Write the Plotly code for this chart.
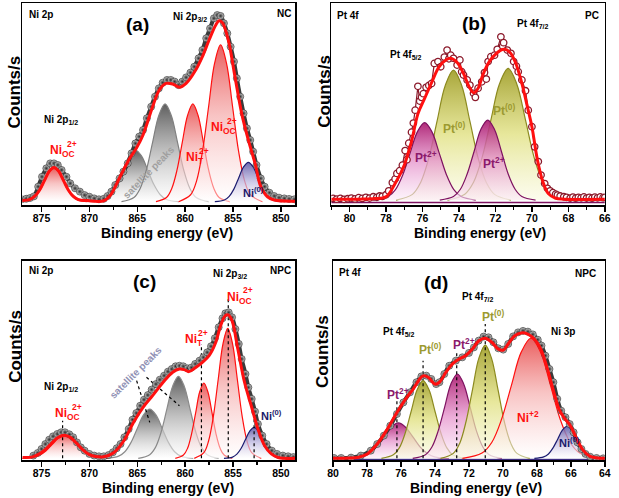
import plotly.graph_objects as go

# ======================= DATA =======================
# ---- (a) Ni 2p, NC ----
a_data = [(877.05, 1.3), (876.6, 1.6), (876.2, 2.0), (875.8, 2.9), (875.35, 8.2), (874.95, 13.6), (874.5, 18.2),
          (874.1, 20.9), (873.7, 20.9), (873.3, 20.0), (872.9, 17.3), (872.4, 13.6), (872.0, 10.0), (871.5, 7.3),
          (871.0, 5.5), (870.5, 3.6), (870.0, 2.7), (869.5, 1.8), (869.0, 1.3), (868.5, 1.6), (868.1, 3.1),
          (867.7, 5.5), (867.3, 9.1), (866.85, 12.7), (866.45, 16.4), (866.0, 20.9), (865.6, 26.4), (865.2, 31.8),
          (864.8, 35.5), (864.4, 39.1), (864.0, 45.5), (863.55, 51.8), (863.15, 57.3), (862.75, 61.8), (862.35, 64.9),
          (861.9, 66.4), (861.5, 66.4), (861.1, 65.5), (860.7, 63.6), (860.3, 65.5), (859.9, 67.8), (859.45, 70.4),
          (859.05, 73.6), (858.6, 78.2), (858.2, 82.7), (857.8, 89.1), (857.4, 94.5), (857.0, 100.0), (856.65, 101.8),
          (856.3, 101.3), (855.95, 97.3), (855.6, 91.8), (855.25, 84.5), (854.9, 76.4), (854.6, 67.3), (854.25, 57.3),
          (853.9, 48.2), (853.55, 40.0), (853.2, 33.6), (852.9, 27.3), (852.55, 20.0), (852.1, 12.7), (851.7, 8.2),
          (851.2, 4.9), (850.7, 3.1), (850.2, 2.2), (849.65, 1.8), (849.15, 1.5), (848.6, 1.3)]
a_fit = [(877.2, 0.6), (876.2, 1.3), (875.7, 3.0), (875.2, 6.4), (874.7, 11.5), (874.2, 16.6), (873.7, 18.7),
         (873.2, 16.6), (872.7, 11.5), (872.2, 6.4), (871.7, 3.0), (871.2, 1.3), (870.2, 0.6), (868.5, 0.5),
         (867.8, 3.6), (866.8, 13.6), (865.8, 23.6), (865.1, 29.1), (864.4, 36.4), (863.4, 51.8), (862.7, 60.9),
         (862.0, 64.5), (861.3, 64.2), (860.6, 62.4), (859.9, 64.5), (858.9, 71.8), (858.2, 79.1), (857.5, 88.2),
         (856.8, 96.4), (856.45, 98.7), (856.1, 97.5), (855.5, 88.2), (854.8, 68.2), (854.1, 48.2), (853.4, 33.6),
         (852.7, 20.9), (852.1, 8.2), (851.4, 2.7), (850.7, 0.9), (848.3, 0.3)]
a_niocsat_x = [877.2, 876.2, 875.7, 875.2, 874.7, 874.2, 873.7, 873.2, 872.7, 872.2, 871.7, 871.2, 870.2]
a_niocsat_y = [0, 0.8, 2.5, 5.9, 11.0, 16.1, 18.2, 16.1, 11.0, 5.9, 2.5, 0.8, 0]
a_sat1_x = [869.75, 868.45, 867.8, 867.15, 866.5, 865.85, 865.2, 864.55, 863.9, 863.25, 862.6, 861.95, 860.65]
a_sat1_y = [0, 1.2, 3.8, 9.2, 17.1, 24.9, 28.2, 24.9, 17.1, 9.2, 3.8, 1.2, 0]
a_sat2_x = [866.65, 865.35, 864.7, 864.05, 863.4, 862.75, 862.1, 861.45, 860.8, 860.15, 859.5, 858.85, 857.55]
a_sat2_y = [0, 2.3, 7.2, 17.3, 32.4, 47.0, 53.3, 47.0, 32.4, 17.3, 7.2, 2.3, 0]
a_nit_x = [863.05, 861.95, 861.4, 860.85, 860.3, 859.75, 859.2, 858.65, 858.1, 857.55, 857.0, 856.45, 855.35]
a_nit_y = [0, 2.3, 7.2, 17.3, 32.4, 47.0, 53.3, 47.0, 32.4, 17.3, 7.2, 2.3, 0]
a_nioc_x = [860.68, 859.43, 858.8, 858.18, 857.55, 856.93, 856.3, 855.68, 855.05, 854.43, 853.8, 853.18, 851.93]
a_nioc_y = [0, 3.8, 11.5, 27.8, 51.9, 75.4, 85.5, 75.4, 51.9, 27.8, 11.5, 3.8, 0]
a_ni0_x = [856.9, 855.9, 855.4, 854.9, 854.4, 853.9, 853.4, 852.9, 852.4, 851.9, 851.4, 850.9, 849.9]
a_ni0_y = [0, 0.9, 2.9, 7.0, 13.1, 19.0, 21.5, 19.0, 13.1, 7.0, 2.9, 0.9, 0]
a_ticks = [875, 870, 865, 860, 855, 850]

# ---- (b) Pt 4f, PC ----
b_data = [(80.9, 0.9), (80.7, 0.5), (80.5, 0.9), (80.3, 0.4), (80.1, 0.7), (79.9, 1.1), (79.7, 0.6), (79.5, 1.3),
          (79.3, 0.9), (79.1, 1.5), (78.9, 1.1), (78.7, 1.8), (78.5, 1.5), (78.35, 2.2), (78.2, 2.0), (78.0, 2.9),
          (77.85, 5.0), (77.65, 9.5), (77.5, 11.5), (77.4, 14.5), (77.25, 16.0), (77.1, 19.0), (76.95, 27.0),
          (76.85, 22.0), (76.75, 31.0), (76.6, 37.0), (76.5, 42.0), (76.4, 49.0), (76.25, 62.0), (76.15, 54.0),
          (76.05, 56.0), (75.95, 58.0), (75.8, 61.5), (75.65, 62.5), (75.5, 63.6), (75.35, 74.5), (75.15, 75.5),
          (75.0, 72.7), (74.8, 78.0), (74.65, 81.8), (74.55, 77.0), (74.45, 79.0), (74.3, 77.3), (74.1, 73.6),
          (73.95, 76.4), (73.85, 70.0), (73.75, 68.2), (73.55, 65.5), (73.4, 62.7), (73.2, 58.2), (73.1, 56.0),
          (72.95, 61.0), (72.75, 64.5), (72.6, 69.5), (72.5, 66.0), (72.4, 75.5), (72.25, 78.2), (72.05, 79.0),
          (71.9, 82.2), (71.7, 89.0), (71.6, 84.0), (71.55, 85.8), (71.35, 81.8), (71.15, 80.0), (71.0, 75.5),
          (70.85, 73.0), (70.75, 70.0), (70.55, 65.5), (70.35, 59.6), (70.2, 49.0), (70.0, 40.0), (69.85, 29.0),
          (69.65, 21.0), (69.5, 13.6), (69.3, 9.0), (69.15, 6.4), (69.0, 5.0), (68.85, 4.0), (68.7, 3.2),
          (68.6, 2.7), (68.45, 2.2), (68.25, 1.8), (68.1, 1.5), (67.9, 1.1), (67.75, 1.6), (67.6, 1.0),
          (67.45, 1.5), (67.3, 1.2), (67.15, 1.7), (67.0, 1.1), (66.85, 1.5), (66.7, 1.0), (66.55, 1.6),
          (66.4, 1.2), (66.25, 1.7), (66.1, 1.3), (66.0, 1.5)]
b_fit = [(81.0, 0.4), (79.5, 0.5), (78.6, 0.8), (78.0, 1.8), (77.5, 9.0), (77.0, 19.0), (76.6, 32.0), (76.25, 47.0),
         (75.9, 55.0), (75.5, 64.0), (75.1, 72.5), (74.7, 76.5), (74.45, 77.3), (74.1, 75.0), (73.75, 69.0),
         (73.45, 62.0), (73.2, 58.5), (72.95, 61.0), (72.7, 68.0), (72.4, 74.5), (72.1, 78.5), (71.75, 81.5),
         (71.5, 82.2), (71.2, 80.5), (70.9, 75.0), (70.55, 63.6), (70.25, 51.0), (70.0, 40.0), (69.7, 22.0),
         (69.4, 10.0), (69.1, 3.5), (68.7, 1.0), (68.2, 0.5), (66.0, 0.4)]
b_base = [(81.0, -1.4), (66.0, -1.4)]
b_pt2a_x = [78.68, 77.88, 77.48, 77.08, 76.68, 76.28, 75.88, 75.48, 75.08, 74.68, 74.28, 73.88, 73.08]
b_pt2a_y = [0, 1.9, 5.7, 13.7, 25.6, 37.2, 42.2, 37.2, 25.6, 13.7, 5.7, 1.9, 0]
b_pt0a_x = [77.45, 76.55, 76.1, 75.65, 75.2, 74.75, 74.3, 73.85, 73.4, 72.95, 72.5, 72.05, 71.15]
b_pt0a_y = [0, 3.1, 9.6, 23.0, 43.0, 62.5, 70.9, 62.5, 43.0, 23.0, 9.6, 3.1, 0]
b_pt2b_x = [75.05, 74.3, 73.92, 73.55, 73.17, 72.8, 72.42, 72.05, 71.67, 71.3, 70.92, 70.55, 69.8]
b_pt2b_y = [0, 1.9, 5.9, 14.2, 26.5, 38.5, 43.6, 38.5, 26.5, 14.2, 5.9, 1.9, 0]
b_pt0b_x = [74.63, 73.68, 73.2, 72.73, 72.25, 71.78, 71.3, 70.83, 70.35, 69.88, 69.4, 68.93, 67.98]
b_pt0b_y = [0, 3.2, 9.7, 23.3, 43.6, 63.3, 71.8, 63.3, 43.6, 23.3, 9.7, 3.2, 0]
b_ticks = [80, 78, 76, 74, 72, 70, 68, 66]

# ---- (c) Ni 2p, NPC ----
c_data = [(875.85, 1.5), (875.4, 2.9), (875.0, 5.1), (874.6, 7.8), (874.2, 10.2), (873.8, 12.0), (873.35, 13.3),
          (872.95, 14.2), (872.55, 14.2), (872.1, 13.1), (871.7, 11.5), (871.3, 8.7), (870.9, 6.0), (870.5, 4.2),
          (870.0, 2.4), (869.5, 1.5), (869.0, 1.1), (868.5, 1.1), (868.0, 1.8), (867.55, 3.3), (867.15, 5.5),
          (866.75, 7.8), (866.35, 11.5), (865.9, 16.0), (865.5, 21.1), (865.1, 24.7), (864.7, 28.7), (864.3, 32.0),
          (863.9, 34.5), (863.5, 37.5), (863.05, 40.5), (862.65, 42.9), (862.2, 45.1), (861.8, 47.3), (861.4, 48.7),
          (861.0, 50.2), (860.6, 50.5), (860.2, 50.2), (859.75, 49.1), (859.35, 49.5), (858.95, 51.5), (858.5, 53.3),
          (858.1, 55.1), (857.7, 57.8), (857.3, 61.1), (856.9, 65.5), (856.5, 71.5), (856.1, 76.4), (855.8, 79.1),
          (855.45, 79.6), (855.1, 76.9), (854.75, 70.5), (854.4, 62.4), (854.1, 54.2), (853.7, 46.0), (853.4, 38.7),
          (853.05, 32.4), (852.7, 25.5), (852.4, 18.7), (851.95, 12.4), (851.5, 7.8), (850.95, 4.2), (850.4, 2.4),
          (849.8, 1.5), (849.25, 1.1), (848.7, 0.7)]
c_fit = [(877.0, 0.5), (875.9, 0.8), (875.2, 2.5), (874.55, 5.0), (873.9, 8.5), (873.25, 11.5), (872.6, 12.6),
         (871.95, 11.3), (871.3, 8.0), (870.65, 4.5), (870.0, 2.0), (869.35, 1.0), (868.5, 0.9), (867.5, 2.9),
         (866.4, 9.6), (865.4, 19.6), (864.4, 27.8), (863.4, 34.2), (862.3, 41.5), (861.3, 47.0), (860.6, 48.7),
         (860.1, 48.4), (859.6, 47.3), (858.9, 49.6), (858.2, 52.4), (857.5, 56.0), (856.8, 63.3), (856.3, 72.4),
         (855.8, 77.8), (855.5, 78.2), (855.1, 75.0), (854.5, 59.6), (853.8, 41.5), (853.1, 28.7), (852.4, 16.0),
         (851.7, 6.9), (851.0, 2.4), (850.3, 0.5), (848.5, 0.0)]
c_niocsat_x = [877.15, 875.85, 875.2, 874.55, 873.9, 873.25, 872.6, 871.95, 871.3, 870.65, 870.0, 869.35, 868.05]
c_niocsat_y = [0, 0.5, 1.7, 4.0, 7.5, 10.9, 12.4, 10.9, 7.5, 4.0, 1.7, 0.5, 0]
c_sat1_x = [868.25, 866.95, 866.3, 865.65, 865.0, 864.35, 863.7, 863.05, 862.4, 861.75, 861.1, 860.45, 859.15]
c_sat1_y = [0, 1.2, 3.6, 8.7, 16.3, 23.7, 26.9, 23.7, 16.3, 8.7, 3.6, 1.2, 0]
c_sat2_x = [864.9, 863.7, 863.1, 862.5, 861.9, 861.3, 860.7, 860.1, 859.5, 858.9, 858.3, 857.7, 856.5]
c_sat2_y = [0, 2.0, 6.0, 14.5, 27.1, 39.4, 44.7, 39.4, 27.1, 14.5, 6.0, 2.0, 0]
c_nit_x = [861.03, 860.18, 859.75, 859.33, 858.9, 858.48, 858.05, 857.63, 857.2, 856.78, 856.35, 855.93, 855.08]
c_nit_y = [0, 1.8, 5.5, 13.4, 24.9, 36.3, 41.1, 36.3, 24.9, 13.4, 5.5, 1.8, 0]
c_nioc_x = [859.05, 858.05, 857.55, 857.05, 856.55, 856.05, 855.55, 855.05, 854.55, 854.05, 853.55, 853.05, 852.05]
c_nioc_y = [0, 3.1, 9.6, 23.0, 43.0, 62.5, 70.9, 62.5, 43.0, 23.0, 9.6, 3.1, 0]
c_ni0_x = [855.95, 855.05, 854.6, 854.15, 853.7, 853.25, 852.8, 852.35, 851.9, 851.45, 851.0, 850.55, 849.65]
c_ni0_y = [0, 0.7, 2.3, 5.5, 10.3, 14.9, 16.9, 14.9, 10.3, 5.5, 2.3, 0.7, 0]
c_drops = [(872.8, 20.5), (858.3, 62.4), (855.5, 86.9), (852.8, 28.7)]
c_pointers = [((865.07, 42.4), (863.7, 19.6)), ((864.04, 44.2), (860.6, 28.7))]
c_ticks = [875, 870, 865, 860, 855, 850]

# ---- (d) Pt 4f, NPC ----
d_data = [(79.94, 0.2), (79.52, 0.2), (78.94, 0.4), (78.36, 1.5), (77.78, 4.2), (77.4, 7.8), (77.01, 12.4),
          (76.63, 17.8), (76.24, 24.2), (75.86, 30.5), (75.47, 36.0), (75.09, 41.5), (74.8, 44.7), (74.51, 45.1),
          (74.22, 43.3), (73.93, 40.5), (73.74, 41.5), (73.45, 46.0), (73.16, 50.5), (72.77, 53.3), (72.39, 55.1),
          (72.0, 57.5), (71.71, 60.5), (71.43, 64.2), (71.14, 66.4), (70.85, 66.0), (70.56, 63.3), (70.27, 60.0),
          (69.98, 59.3), (69.69, 62.4), (69.4, 66.5), (69.11, 68.7), (68.82, 69.5), (68.53, 69.1), (68.24, 67.6),
          (67.95, 64.7), (67.73, 61.5), (67.5, 56.0), (67.26, 48.7), (67.03, 41.5), (66.8, 32.4), (66.57, 26.0),
          (66.32, 22.4), (66.07, 18.7), (65.84, 14.2), (65.61, 8.7), (65.38, 5.1), (65.14, 2.4), (64.87, 0.9),
          (64.49, 0.2), (64.1, 0.0)]
d_fit = [(80.0, 0.0), (79.0, 0.2), (78.55, 0.5), (77.98, 2.4), (77.4, 7.8), (76.8, 16.0), (76.24, 25.0),
         (75.66, 33.3), (75.28, 37.8), (74.9, 43.3), (74.7, 45.0), (74.4, 44.2), (74.0, 40.5), (73.74, 41.5),
         (73.35, 47.0), (72.97, 51.5), (72.58, 54.2), (72.2, 56.0), (71.8, 59.6), (71.43, 64.0), (71.04, 65.5),
         (70.66, 63.3), (70.27, 59.6), (69.98, 59.0), (69.69, 62.4), (69.3, 66.9), (68.92, 68.4), (68.54, 67.8),
         (68.15, 65.1), (67.77, 59.6), (67.38, 48.7), (67.0, 36.0), (66.7, 26.9), (66.42, 22.4), (66.03, 17.8),
         (65.65, 10.5), (65.26, 4.2), (64.87, 1.1), (64.0, 0.0)]
d_base = [(80.0, -0.6), (64.0, -0.6)]
d_pt2a_x = [79.13, 78.28, 77.85, 77.43, 77.0, 76.58, 76.15, 75.73, 75.3, 74.88, 74.45, 74.03, 73.18]
d_pt2a_y = [0, 0.8, 2.6, 6.3, 11.7, 17.0, 19.3, 17.0, 11.7, 6.3, 2.6, 0.8, 0]
d_pt0a_x = [77.15, 76.45, 76.1, 75.75, 75.4, 75.05, 74.7, 74.35, 74.0, 73.65, 73.3, 72.95, 72.25]
d_pt0a_y = [0, 1.9, 5.7, 13.8, 25.7, 37.4, 42.4, 37.4, 25.7, 13.8, 5.7, 1.9, 0]
d_pt2b_x = [75.31, 74.56, 74.18, 73.81, 73.43, 73.06, 72.68, 72.31, 71.93, 71.56, 71.18, 70.81, 70.06]
d_pt2b_y = [0, 2.0, 6.2, 15.0, 27.9, 40.6, 46.0, 40.6, 27.9, 15.0, 6.2, 2.0, 0]
d_pt0b_x = [73.67, 72.92, 72.54, 72.17, 71.79, 71.42, 71.04, 70.67, 70.29, 69.92, 69.54, 69.17, 68.42]
d_pt0b_y = [0, 2.7, 8.3, 20.1, 37.5, 54.5, 61.8, 54.5, 37.5, 20.1, 8.3, 2.7, 0]
d_ni2_x = [72.38, 71.23, 70.65, 70.08, 69.5, 68.93, 68.35, 67.78, 67.2, 66.63, 66.05, 65.48, 64.33]
d_ni2_y = [0, 2.9, 8.8, 21.3, 39.8, 57.8, 65.5, 57.8, 39.8, 21.3, 8.8, 2.9, 0]
d_ni0_x = [68.15, 67.6, 67.32, 67.05, 66.77, 66.5, 66.22, 65.95, 65.67, 65.4, 65.12, 64.85, 64.3]
d_ni0_y = [0, 0.8, 2.4, 5.7, 10.6, 15.4, 17.5, 15.4, 10.6, 5.7, 2.4, 0.8, 0]
d_drops = [(76.24, 31.5), (74.7, 53.3), (72.72, 57.8), (71.04, 73.3)]
d_ticks = [80, 78, 76, 74, 72, 70, 68, 66, 64]

# ======================= STYLE =======================
W, H = 619, 498
FONT = "Arial"
RED = "#ff1010"
RED_FILL = [[0, "rgba(255,255,255,0.5)"], [0.55, "rgba(245,170,170,0.7)"], [1, "rgba(230,65,65,0.85)"]]
GRAY_FILL = [[0, "rgba(255,255,255,0.5)"], [0.5, "rgba(175,175,175,0.75)"], [1, "rgba(80,80,80,0.92)"]]
NAVY_FILL = [[0, "rgba(255,255,255,0.5)"], [0.5, "rgba(190,185,225,0.75)"], [1, "rgba(95,88,165,0.9)"]]
MAG_FILL = [[0, "rgba(252,235,248,0.6)"], [0.5, "rgba(230,150,205,0.8)"], [1, "rgba(170,25,110,0.92)"]]
OLIVE_FILL = [[0, "rgba(250,250,225,0.6)"], [0.5, "rgba(225,225,130,0.8)"], [1, "rgba(160,158,40,0.92)"]]

fig = go.Figure()


def xs(p):
    return [v[0] for v in p]


def ys(p):
    return [v[1] for v in p]


def comp(x, y, ax, lc, scale):
    fig.add_trace(go.Scatter(x=x, y=y, xaxis="x" + ax, yaxis="y" + ax, mode="lines",
                             line=dict(color=lc, width=1.2, shape="spline"), fill="tozeroy",
                             fillgradient=dict(type="vertical", colorscale=scale),
                             hoverinfo="skip", showlegend=False))


def dots(p, ax):
    fig.add_trace(go.Scatter(x=xs(p), y=ys(p), xaxis="x" + ax, yaxis="y" + ax, mode="lines+markers",
                             line=dict(color="#3a3a3a", width=4, shape="spline"),
                             marker=dict(size=7, color="#d5d5d5",
                                         gradient=dict(type="radial", color="#2a2a2a"),
                                         line=dict(width=0.6, color="#1c1c1c")),
                             showlegend=False))


def fit(p, ax):
    fig.add_trace(go.Scatter(x=xs(p), y=ys(p), xaxis="x" + ax, yaxis="y" + ax, mode="lines",
                             line=dict(color=RED, width=3, shape="spline"), showlegend=False))


def dotted(p0, p1, ax):
    fig.add_trace(go.Scatter(x=[p0[0], p1[0]], y=[p0[1], p1[1]], xaxis="x" + ax, yaxis="y" + ax,
                             mode="lines", line=dict(color="black", width=1.2, dash="dot"),
                             hoverinfo="skip", showlegend=False))


# ---- (a) ----
comp(a_sat1_x, a_sat1_y, "", "#808080", GRAY_FILL)
comp(a_sat2_x, a_sat2_y, "", "#808080", GRAY_FILL)
comp(a_nit_x, a_nit_y, "", RED, RED_FILL)
comp(a_nioc_x, a_nioc_y, "", RED, RED_FILL)
comp(a_ni0_x, a_ni0_y, "", "#1c1c70", NAVY_FILL)
comp(a_niocsat_x, a_niocsat_y, "", RED, RED_FILL)
dots(a_data, "")
fit(a_fit, "")

# ---- (b) ----
fig.add_trace(go.Scatter(x=xs(b_base), y=ys(b_base), xaxis="x2", yaxis="y2", mode="lines",
                         line=dict(color="#7d1260", width=1.5), showlegend=False))
comp(b_pt0a_x, b_pt0a_y, "2", "#8c8a20", OLIVE_FILL)
comp(b_pt0b_x, b_pt0b_y, "2", "#8c8a20", OLIVE_FILL)
comp(b_pt2a_x, b_pt2a_y, "2", "#7d1260", MAG_FILL)
comp(b_pt2b_x, b_pt2b_y, "2", "#7d1260", MAG_FILL)
fig.add_trace(go.Scatter(x=xs(b_data), y=ys(b_data), xaxis="x2", yaxis="y2", mode="lines+markers",
                         line=dict(color="#8b1a2b", width=1.2),
                         marker=dict(symbol="circle", size=6.5, color="white",
                                     line=dict(color="#8b1a2b", width=1.3)),
                         showlegend=False))
fit(b_fit, "2")

# ---- (c) ----
comp(c_sat1_x, c_sat1_y, "3", "#8a8a8a", GRAY_FILL)
comp(c_sat2_x, c_sat2_y, "3", "#8a8a8a", GRAY_FILL)
comp(c_nit_x, c_nit_y, "3", RED, RED_FILL)
comp(c_nioc_x, c_nioc_y, "3", RED, RED_FILL)
comp(c_ni0_x, c_ni0_y, "3", "#1c1c70", NAVY_FILL)
comp(c_niocsat_x, c_niocsat_y, "3", RED, RED_FILL)
for (xv, yv) in c_drops:
    dotted((xv, 0), (xv, yv), "3")
for (p0, p1) in c_pointers:
    dotted(p0, p1, "3")
dots(c_data, "3")
fit(c_fit, "3")

# ---- (d) ----
fig.add_trace(go.Scatter(x=xs(d_base), y=ys(d_base), xaxis="x4", yaxis="y4", mode="lines",
                         line=dict(color="#3a2a80", width=1.5), showlegend=False))
comp(d_pt2a_x, d_pt2a_y, "4", "#7d1260", MAG_FILL)
comp(d_pt0a_x, d_pt0a_y, "4", "#8c8a20", OLIVE_FILL)
comp(d_pt2b_x, d_pt2b_y, "4", "#7d1260", MAG_FILL)
comp(d_pt0b_x, d_pt0b_y, "4", "#8c8a20", OLIVE_FILL)
comp(d_ni2_x, d_ni2_y, "4", RED, RED_FILL)
comp(d_ni0_x, d_ni0_y, "4", "#1c1c70", NAVY_FILL)
for (xv, yv) in d_drops:
    dotted((xv, 0), (xv, yv), "4")
dots(d_data, "4")
fit(d_fit, "4")


# ======================= AXES =======================
def px_x(v):
    return v / W


def px_y(v):
    return 1 - v / H


def xaxis(l, r, rng, ticks, minor):
    return dict(domain=[px_x(l), px_x(r)], range=rng, showline=True, mirror=True, linecolor="black",
                linewidth=1.5, ticks="outside", ticklen=5, tickwidth=1.5, tickcolor="black",
                tickvals=ticks, ticktext=[str(t) for t in ticks],
                tickfont=dict(family=FONT, size=10.5, color="black", weight="bold"),
                minor=dict(ticks="outside", ticklen=3, tickwidth=1.2, tickcolor="black", dtick=minor),
                showgrid=False, zeroline=False, ticklabelstandoff=-2)


def yaxis(t, b, rng):
    return dict(domain=[px_y(b), px_y(t)], range=rng, showline=True, mirror=True, linecolor="black",
                linewidth=1.5, ticks="", showticklabels=False, showgrid=False, zeroline=False)


lay = dict(width=W, height=H, margin=dict(l=0, r=0, t=0, b=0), paper_bgcolor="white",
           plot_bgcolor="white", showlegend=False)
lay["xaxis"] = dict(xaxis(16.7, 295, [877, 848.5], a_ticks, 2.5), anchor="y")
lay["yaxis"] = dict(yaxis(3.3, 205, [-1.8, 108.2]), anchor="x")
lay["xaxis2"] = dict(xaxis(331.7, 610.7, [81, 66], b_ticks, 1), anchor="y2")
lay["yaxis2"] = dict(yaxis(3.3, 205, [-2.7, 107.3]), anchor="x2")
lay["xaxis3"] = dict(xaxis(16.7, 295, [877, 848.5], c_ticks, 2.5), anchor="y3")
lay["yaxis3"] = dict(yaxis(260.7, 460, [-0.9, 107.8]), anchor="x3")
lay["xaxis4"] = dict(xaxis(333.5, 610.7, [80, 64], d_ticks, 1), anchor="y4")
lay["yaxis4"] = dict(yaxis(260.7, 460, [-0.9, 107.8]), anchor="x4")
fig.update_layout(**lay)

# ======================= TEXT =======================
BLACK, NAVY, OLIVE, PURPLE = "black", "#1a1a6b", "#9c9a30", "#8b1a6b"
labels = [
    # (a)
    ("Ni 2p", 21.5, 14, 10, BLACK, "left", 0),
    ("(a)", 134, 25, 19, BLACK, "center", 0),
    ("Ni 2p<sub>3/2</sub>", 168, 17, 10, BLACK, "left", 0),
    ("NC", 293, 13.5, 10, BLACK, "right", 0),
    ("Ni 2p<sub>1/2</sub>", 36.7, 120, 10, BLACK, "left", 0),
    ("satellite peaks", 145, 172, 10, "#a0a0a0", "center", -46),
    ("Ni<sup>(0)</sup>", 240, 192, 11, NAVY, "left", 0),
    # (b)
    ("Pt 4f", 335, 15, 10, BLACK, "left", 0),
    ("(b)", 477, 23, 19, BLACK, "center", 0),
    ("Pt 4f<sub>7/2</sub>", 519, 24, 10, BLACK, "left", 0),
    ("PC", 607, 15, 10, BLACK, "right", 0),
    ("Pt 4f<sub>5/2</sub>", 390, 55, 10, BLACK, "left", 0),
    ("Pt<sup>(0)</sup>", 444, 128, 12, OLIVE, "left", 0),
    ("Pt<sup>(0)</sup>", 495, 110, 12, OLIVE, "left", 0),
    ("Pt<sup>2+</sup>", 415, 157, 12, PURPLE, "left", 0),
    ("Pt<sup>2+</sup>", 484, 163, 12, PURPLE, "left", 0),
    # (c)
    ("Ni 2p", 21.7, 270, 10, BLACK, "left", 0),
    ("(c)", 141.7, 281, 19, BLACK, "center", 0),
    ("Ni 2p<sub>3/2</sub>", 209, 274, 10, BLACK, "left", 0),
    ("NPC", 293, 270, 10, BLACK, "right", 0),
    ("satellite peaks", 132, 372, 10, "#9090b4", "center", -45),
    ("Ni 2p<sub>1/2</sub>", 36.7, 387, 10, BLACK, "left", 0),
    ("Ni<sup>(0)</sup>", 258, 415, 11, NAVY, "left", 0),
    # (d)
    ("Pt 4f", 338, 272, 10, BLACK, "left", 0),
    ("(d)", 439, 282, 19, BLACK, "center", 0),
    ("NPC", 604, 273, 10, BLACK, "right", 0),
    ("Pt 4f<sub>7/2</sub>", 463, 297, 10, BLACK, "left", 0),
    ("Pt<sup>(0)</sup>", 483, 316, 12, OLIVE, "left", 0),
    ("Ni 3p", 554, 331, 10, BLACK, "left", 0),
    ("Pt 4f<sub>5/2</sub>", 382, 332, 10, BLACK, "left", 0),
    ("Pt<sup>(0)</sup>", 419, 349, 12, OLIVE, "left", 0),
    ("Pt<sup>2+</sup>", 454, 344, 12, PURPLE, "left", 0),
    ("Pt<sup>2+</sup>", 387, 394, 12, PURPLE, "left", 0),
    ("Ni<sup>+2</sup>", 519, 417, 12, RED, "left", 0),
    ("Ni<sup>(0)</sup>", 562, 442, 11, NAVY, "left", 0),
    # axis titles
    ("Counts/s", 8.7, 92, 17, BLACK, "center", -90),
    ("Counts/s", 324, 91, 17, BLACK, "center", -90),
    ("Counts/s", 9, 346, 17, BLACK, "center", -90),
    ("Counts/s", 322.3, 352, 17, BLACK, "center", -90),
    ("Binding energy (eV)", 164, 232.5, 14, BLACK, "center", 0),
    ("Binding energy (eV)", 483.7, 232.5, 14, BLACK, "center", 0),
    ("Binding energy (eV)", 164.7, 487.5, 14, BLACK, "center", 0),
    ("Binding energy (eV)", 479.5, 488, 14, BLACK, "center", 0),
]
# Ni species labels with the Origin-style stacked charge: (main, charge, x, y of "Ni", charge x offset)
ni_labels = [
    ("Ni<sub>OC</sub>", "2+", 43.3, 149.3, 16.5),
    ("Ni<sub>T</sub>", "2+", 181.7, 156.5, 13.5),
    ("Ni<sub>OC</sub>", "2+", 206.7, 126.0, 16.5),
    ("Ni<sub>OC</sub>", "2+", 223.3, 295.5, 16.5),
    ("Ni<sub>T</sub>", "2+", 180.0, 338.3, 13.5),
    ("Ni<sub>OC</sub>", "2+", 48.3, 412.3, 16.5),
]


def add_text(txt, x, y, size, color, anchor, ang):
    fig.add_annotation(text="<b>" + txt + "</b>", x=px_x(x), y=px_y(y), xref="paper", yref="paper",
                       xanchor=anchor, yanchor="middle", showarrow=False, textangle=ang,
                       font=dict(family=FONT, size=size, color=color))


for (txt, x, y, size, color, anchor, ang) in labels:
    add_text(txt, x, y, size, color, anchor, ang)
for (main, charge, x, y, dx) in ni_labels:
    add_text(main, x, y + 2, 12, RED, "left", 0)
    add_text(charge, x + dx, y - 5.5, 8.5, RED, "left", 0)

fig.write_html("out.html", config={"displayModeBar": False, "staticPlot": True},
               post_script="document.body.style.margin='0';document.body.style.overflow='hidden';")
